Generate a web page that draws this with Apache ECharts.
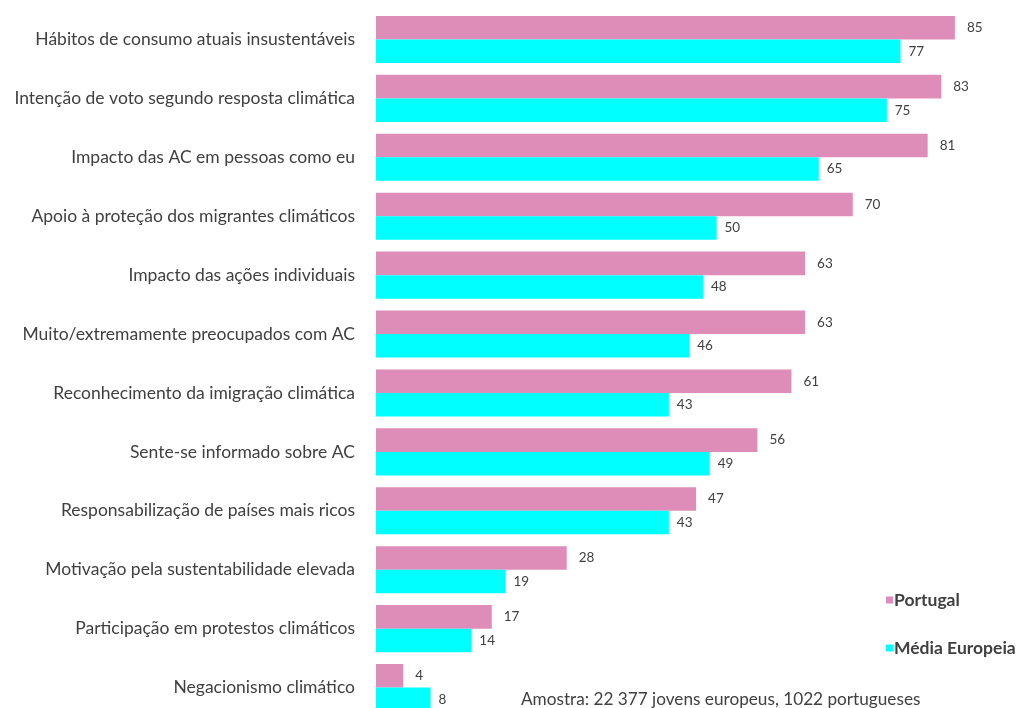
<!DOCTYPE html>
<html><head><meta charset="utf-8">
<script src="https://cdn.jsdelivr.net/npm/echarts@6/dist/echarts.min.js"></script>
<style>html,body{margin:0;padding:0;background:#fff}#c{width:1025px;height:708px}</style>
</head><body><div id="c"></div>
<script>
const categories = [
  "Hábitos de consumo atuais insustentáveis",
  "Intenção de voto segundo resposta climática",
  "Impacto das AC em pessoas como eu",
  "Apoio à proteção dos migrantes climáticos",
  "Impacto das ações individuais",
  "Muito/extremamente preocupados com AC",
  "Reconhecimento da imigração climática",
  "Sente-se informado sobre AC",
  "Responsabilização de países mais ricos",
  "Motivação pela sustentabilidade elevada",
  "Participação em protestos climáticos",
  "Negacionismo climático"
];
const portugal = [85, 83, 81, 70, 63, 63, 61, 56, 47, 28, 17, 4];
const mediaEuropeia = [77, 75, 65, 50, 48, 46, 43, 49, 43, 19, 14, 8];
const footnote = "Amostra: 22 377 jovens europeus, 1022 portugueses";

const chart = echarts.init(document.getElementById('c'));
const font = "Lato, sans-serif";
chart.setOption({
  animation: false,
  textStyle: { fontFamily: font },
  grid: { left: 376, width: 647, top: 10, height: 707, outerBoundsMode: 'none', containLabel: false },
  xAxis: { type: 'value', min: 0, max: 95, show: false },
  yAxis: {
    type: 'category', data: categories, inverse: true,
    axisLine: { show: false }, axisTick: { show: false },
    axisLabel: { fontSize: 17.5, color: '#404040', margin: 21, fontFamily: font }
  },
  legend: {
    orient: 'vertical', left: 886, top: 590, itemGap: 28, padding: 0,
    itemWidth: 7, itemHeight: 7, icon: 'rect',
    textStyle: { fontSize: 17.5, lineHeight: 20, fontWeight: 'bold', color: '#404040', fontFamily: font, padding: [0,0,0,-4] },
    data: ['Portugal', 'Média Europeia']
  },
  graphic: [{
    type: 'text', left: 521, top: 691,
    style: { text: footnote, fontSize: 17.2, fill: '#404040', fontFamily: font }
  }],
  series: [
    { name: 'Portugal', type: 'bar', data: portugal, barGap: '0%', barCategoryGap: '20%',
      itemStyle: { color: '#DE8DB8' },
      label: { show: true, position: 'right', distance: 12, fontSize: 13.5, color: '#404040' } },
    { name: 'Média Europeia', type: 'bar', data: mediaEuropeia, barGap: '0%', barCategoryGap: '20%',
      itemStyle: { color: '#00FFFF' },
      label: { show: true, position: 'right', distance: 8, fontSize: 13.5, color: '#404040' } }
  ]
});
</script></body></html>
